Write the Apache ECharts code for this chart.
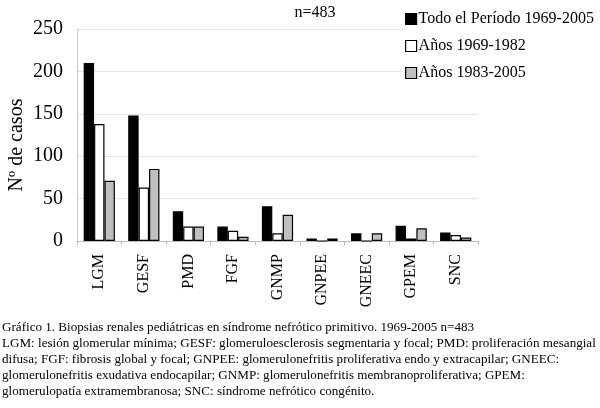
<!DOCTYPE html>
<html><head><meta charset="utf-8">
<script src="https://cdn.jsdelivr.net/npm/echarts@6/dist/echarts.min.js"></script>
<style>html,body{margin:0;padding:0;background:#fff}#c{width:600px;height:408px}</style>
</head><body><div id="c"></div>
<script>
const categories = ['LGM','GESF','PMD','FGF','GNMP','GNPEE','GNEEC','GPEM','SNC'];
const totalPeriod = [210,148,35,17,41,3,9,18,10];
const years6982 = [138,63,17,12,9,0,0,3,7];
const years8305 = [71,85,17,5,31,3,9,15,4];
const seriesNames = ['Todo el Período 1969-2005','Años 1969-1982','Años 1983-2005'];
const yTicks = [0,50,100,150,200,250];
const captionLines = [
 'Gráfico 1. Biopsias renales pediátricas en síndrome nefrótico primitivo. 1969-2005 n=483',
 'LGM: lesión glomerular mínima; GESF: glomeruloesclerosis segmentaria y focal; PMD: proliferación mesangial',
 'difusa; FGF: fibrosis global y focal; GNPEE: glomerulonefritis proliferativa endo y extracapilar; GNEEC:',
 'glomerulonefritis exudativa endocapilar; GNMP: glomerulonefritis membranoproliferativa; GPEM:',
 'glomerulopatía extramembranosa; SNC: síndrome nefrótico congénito.'
];
const font = 'Liberation Serif';
const chart = echarts.init(document.getElementById('c'));
const colors = ['#000000','#ffffff','#c0c0c0'];
const datas = [totalPeriod, years6982, years8305];
chart.setOption({
  animation:false,
  backgroundColor:'#fff',
  title:{text:'n=483',left:310,top:0,textAlign:'center',textStyle:{fontFamily:font,fontSize:16,fontWeight:'normal',color:'#000'}},
  legend:{orient:'vertical',left:403,top:9,itemWidth:11,itemHeight:11,itemGap:11,
    backgroundColor:'#fff',padding:[2,30,6,2],
    textStyle:{fontFamily:font,fontSize:16,color:'#000',padding:[0,0,0,-3]},
    data:seriesNames.map((n,i)=>({name:n,icon:'rect',itemStyle:{color:colors[i],borderColor:'#000',borderWidth:1.2}}))},
  grid:{left:77,right:122,top:29,bottom:167,outerBoundsMode:'none',containLabel:false},
  xAxis:{type:'category',data:categories,
    axisLine:{lineStyle:{color:'#bbb'}},axisTick:{show:true,length:4,lineStyle:{color:'#bbb'}},
    axisLabel:{rotate:90,fontFamily:font,fontSize:16,color:'#000',margin:13}},
  yAxis:{type:'value',min:0,max:250,interval:50,
    name:'Nº de casos',nameLocation:'middle',nameGap:50,nameMoveOverlap:false,
    nameTextStyle:{fontFamily:font,fontSize:20,color:'#000',padding:[0,20,0,0]},
    axisLine:{show:true,lineStyle:{color:'#ccc'}},axisTick:{show:false},
    splitLine:{lineStyle:{color:'#e4e4e4'}},
    axisLabel:{fontFamily:font,fontSize:20,color:'#000',margin:14}},
  series:seriesNames.map((n,i)=>({name:n,type:'bar',data:datas[i],barGap:'0%',barCategoryGap:'30%',z:1,
    itemStyle:{color:colors[i],borderColor:'#000',borderWidth:1.2}})),
  graphic:captionLines.map((t,i)=>({type:'text',left:2,top:321+i*16,z:10,
    style:{text:t,fontFamily:font,fontSize:13.1,fill:'#000'}}))
});
</script></body></html>
